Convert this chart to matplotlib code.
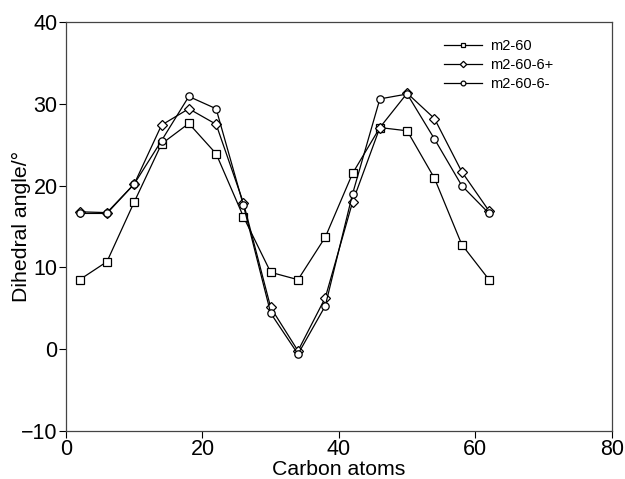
import matplotlib
matplotlib.use("Agg")
import matplotlib.pyplot as plt

carbon = [2, 6, 10, 14, 18, 22, 26, 30, 34, 38, 42, 46, 50, 54, 58, 62]
m2_60 = [8.5, 10.7, 18.0, 25.1, 27.6, 23.9, 16.2, 9.4, 8.5, 13.7, 21.5, 27.1, 26.7, 20.9, 12.8, 8.5]
m2_60_plus = [16.8, 16.7, 20.2, 27.4, 29.4, 27.5, 17.9, 5.1, -0.2, 6.3, 18.0, 27.1, 31.3, 28.2, 21.7, 16.9]
m2_60_minus = [16.6, 16.6, 20.2, 25.5, 30.9, 29.4, 17.6, 4.4, -0.6, 5.3, 19.0, 30.6, 31.2, 25.7, 20.0, 16.6]

plt.rcParams["font.family"] = ["Liberation Sans", "DejaVu Sans"]

fig = plt.figure(figsize=(6.25, 4.79), dpi=100)
ax = fig.add_axes([0.1056, 0.1002, 0.8734, 0.8538])

kw = dict(color="black", lw=0.9, markerfacecolor="white", markeredgecolor="black", markeredgewidth=0.9)
ax.plot(carbon, m2_60, marker="s", ms=5.3, label="m2-60", **kw)
ax.plot(carbon, m2_60_plus, marker="D", ms=5.0, label="m2-60-6+", **kw)
ax.plot(carbon, m2_60_minus, marker="o", ms=5.3, label="m2-60-6-", **kw)

ax.set_xlim(0, 80)
ax.set_ylim(-10, 40)
ax.set_xticks([0, 20, 40, 60, 80])
ax.set_yticks([-10, 0, 10, 20, 30, 40])
ax.set_yticklabels(["\u221210", "0", "10", "20", "30", "40"])
ax.tick_params(direction="out", length=5, width=0.8, labelsize=15.5, pad=1)
for s in ax.spines.values():
    s.set_linewidth(0.9)
    s.set_color("#444")
ax.set_xlabel("Carbon atoms", fontsize=15.3, labelpad=-0.5)
ax.set_ylabel("Dihedral angle/\u00b0", fontsize=15.3)
ax.yaxis.set_label_coords(-0.064, 0.5)

ax.legend(loc="upper left", bbox_to_anchor=(0.692, 0.958), frameon=False, fontsize=10.5,
          handlelength=2.6, handletextpad=0.6, markerscale=0.65, labelspacing=0.35,
          borderpad=0, borderaxespad=0)

fig.savefig("out.png", dpi=100)
